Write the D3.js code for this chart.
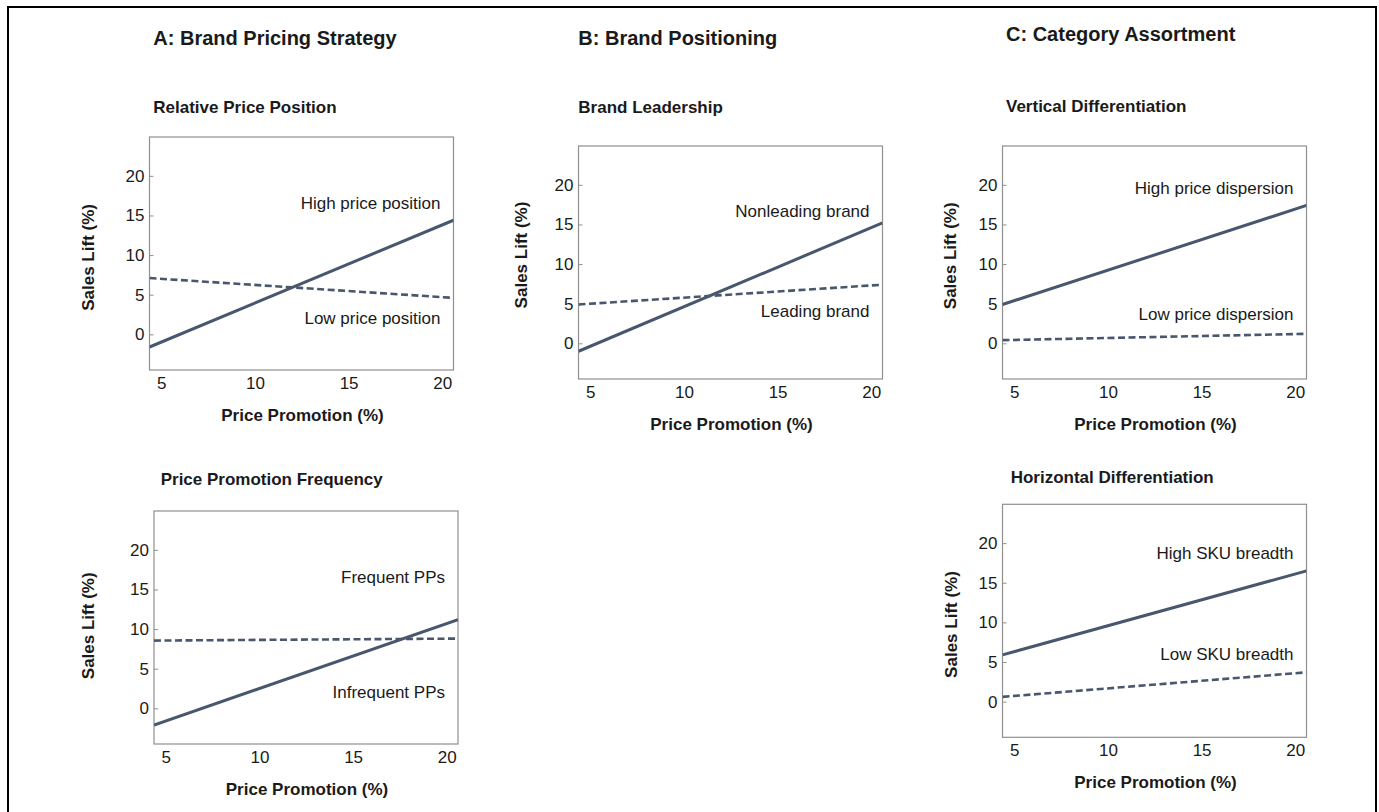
<!DOCTYPE html>
<html>
<head>
<meta charset="utf-8">
<script src="https://cdn.jsdelivr.net/npm/d3@7"></script>
<style>
  html, body { margin: 0; padding: 0; background: #fff; }
  svg { display: block; font-family: Arial, "Liberation Sans", sans-serif; }
</style>
</head>
<body>
<svg id="chart" width="1379" height="812"></svg>
<script>
// ---------- data ----------
const groupTitles = ["A: Brand Pricing Strategy", "B: Brand Positioning", "C: Category Assortment"];
const panelTitles = ["Relative Price Position", "Brand Leadership", "Vertical Differentiation",
                     "Price Promotion Frequency", "Horizontal Differentiation"];
const xTicks = [5, 10, 15, 20];
const yTicks = [0, 5, 10, 15, 20];
const xAxisTitle = "Price Promotion (%)";
const yAxisTitle = "Sales Lift (%)";
const seriesX = [4.37, 20.6];                 // price promotion at left / right edge
const solidValues  = [[-1.6, 14.4], [-1.0, 15.2], [4.9, 17.4], [-2.1, 11.2], [5.9, 16.5]];
const dashedValues = [[7.1, 4.6], [4.9, 7.4], [0.4, 1.2], [8.55, 8.8], [0.6, 3.7]];
const upperLabels = ["High price position", "Nonleading brand", "High price dispersion", "Frequent PPs", "High SKU breadth"];
const lowerLabels = ["Low price position", "Leading brand", "Low price dispersion", "Infrequent PPs", "Low SKU breadth"];
const upperLabelY = [15.8, 15.9, 18.8, 15.8, 17.95];
const lowerLabelY = [1.3, 3.35, 3.0, 1.3, 5.3];

// ---------- layout ----------
const xDomain = [4.37, 20.6];
const yDomain = [-4.5, 24.9];
const plotW = 304, plotH = 233;
const panels = [
  { left: 149.5, top: 137,  sub: [153.3, 113.3], ylab: [93.5, 257.4] },
  { left: 578.5, top: 146,  sub: [578.3, 113.0], ylab: [526.5, 255] },
  { left: 1002.5, top: 146, sub: [1006, 112.3],  ylab: [956.3, 255.8] },
  { left: 154,   top: 511,  sub: [160.7, 485],   ylab: [93.8, 625.8] },
  { left: 1002.5, top: 504.3, sub: [1010.7, 482.7], ylab: [956.8, 624.5] }
];
const groupPos = [[153.3, 45], [578.3, 45], [1006, 40.7]];

const lineColor = "#48566e";
const frameColor = "#8f8f8f";
const textColor = "#1a1a1a";

const svg = d3.select("#chart");

// outer frame
svg.append("rect").attr("x", 8).attr("y", 7).attr("width", 1368).attr("height", 900)
  .attr("fill", "none").attr("stroke", "#000").attr("stroke-width", 2);

// group titles
svg.selectAll("text.group").data(groupTitles).join("text")
  .attr("class", "group")
  .attr("x", (d, i) => groupPos[i][0]).attr("y", (d, i) => groupPos[i][1])
  .attr("font-size", 20).attr("font-weight", "bold").attr("fill", textColor)
  .text(d => d);

panels.forEach((p, i) => {
  const x = d3.scaleLinear().domain(xDomain).range([p.left, p.left + plotW]);
  const y = d3.scaleLinear().domain(yDomain).range([p.top + plotH, p.top]);

  // subtitle
  svg.append("text").attr("x", p.sub[0]).attr("y", p.sub[1])
    .attr("font-size", 17).attr("font-weight", "bold").attr("fill", textColor)
    .text(panelTitles[i]);

  // y axis (ticks inward)
  const gy = svg.append("g").attr("transform", `translate(${p.left},0)`)
    .call(d3.axisLeft(y).tickValues(yTicks).tickSize(-4).tickPadding(5));
  gy.select(".domain").remove();
  gy.selectAll(".tick line").attr("stroke", frameColor);
  gy.selectAll(".tick text").attr("font-size", 17).attr("fill", textColor)
    .attr("font-family", "Arial, 'Liberation Sans', sans-serif");

  // x axis (no tick marks)
  const gx = svg.append("g").attr("transform", `translate(0,${p.top + plotH})`)
    .call(d3.axisBottom(x).tickValues(xTicks).tickSize(0).tickPadding(7));
  gx.select(".domain").remove();
  gx.selectAll(".tick text").attr("font-size", 17).attr("fill", textColor)
    .attr("font-family", "Arial, 'Liberation Sans', sans-serif");

  // frame
  svg.append("rect").attr("x", p.left).attr("y", p.top).attr("width", plotW).attr("height", plotH)
    .attr("fill", "none").attr("stroke", frameColor).attr("stroke-width", 1.2);

  // clip
  const clipId = "clip" + i;
  svg.append("clipPath").attr("id", clipId).append("rect")
    .attr("x", p.left).attr("y", p.top).attr("width", plotW).attr("height", plotH);

  const line = d3.line().x(d => x(d[0])).y(d => y(d[1]));
  const g = svg.append("g").attr("clip-path", `url(#${clipId})`);
  g.append("path").datum(seriesX.map((xv, k) => [xv, dashedValues[i][k]]))
    .attr("d", line).attr("fill", "none").attr("stroke", lineColor)
    .attr("stroke-width", 2.6).attr("stroke-dasharray", "7,3.5");
  g.append("path").datum(seriesX.map((xv, k) => [xv, solidValues[i][k]]))
    .attr("d", line).attr("fill", "none").attr("stroke", lineColor)
    .attr("stroke-width", 3);

  // series labels
  svg.append("text").attr("x", p.left + plotW - 13).attr("y", y(upperLabelY[i]))
    .attr("text-anchor", "end").attr("font-size", 17).attr("fill", textColor).text(upperLabels[i]);
  svg.append("text").attr("x", p.left + plotW - 13).attr("y", y(lowerLabelY[i]))
    .attr("text-anchor", "end").attr("font-size", 17).attr("fill", textColor).text(lowerLabels[i]);

  // axis titles
  svg.append("text").attr("x", p.left + plotW / 2 + 1).attr("y", p.top + plotH + 50.7)
    .attr("text-anchor", "middle").attr("font-size", 17).attr("font-weight", "bold")
    .attr("fill", textColor).text(xAxisTitle);
  svg.append("text")
    .attr("transform", `translate(${p.ylab[0]},${p.ylab[1]}) rotate(-90)`)
    .attr("text-anchor", "middle").attr("font-size", 17).attr("font-weight", "bold")
    .attr("fill", textColor).text(yAxisTitle);
});
</script>
</body>
</html>
